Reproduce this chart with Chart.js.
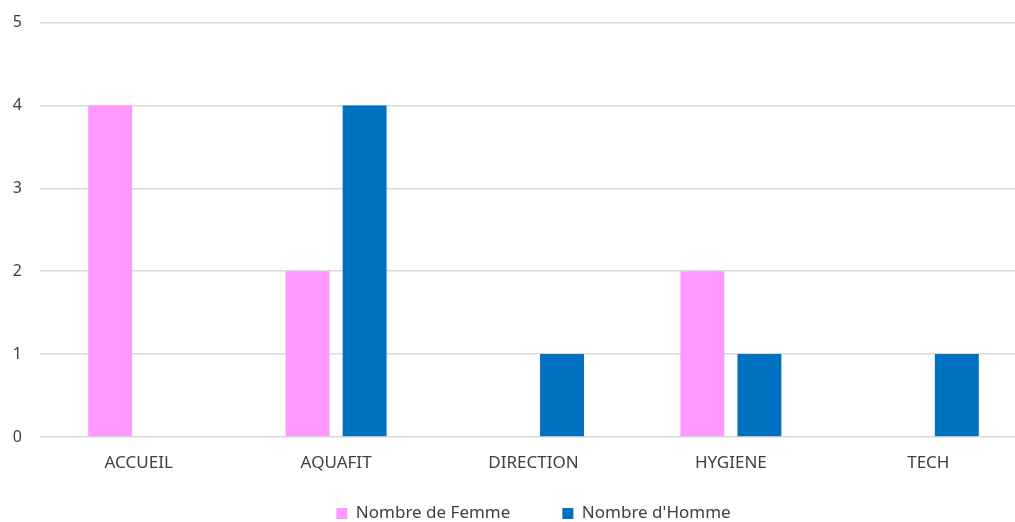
<!DOCTYPE html>
<html>
<head>
<meta charset="utf-8">
<script src="https://cdn.jsdelivr.net/npm/chart.js@4"></script>
<style>
  html, body { margin: 0; background: #fff; }
  #frame { width: 1015px; height: 522px; overflow: hidden; }
  #box { width: 1030px; height: 537px; margin-top: -5px; }
</style>
</head>
<body>
<div id="frame"><div id="box"><canvas id="effectifs"></canvas></div></div>
<script>
/* effectifs par service, femmes / hommes */
const services = ['ACCUEIL', 'AQUAFIT', 'DIRECTION', 'HYGIENE', 'TECH'];
const femmes = [4, 2, 0, 2, 0];
const hommes = [0, 4, 1, 1, 1];
const yMin = 0;
const yMax = 5;
const yStep = 1;

const famille = '"Noto Sans", sans-serif';
const policeAxe = { family: famille, size: 16 };
const policeTexte = { family: famille, size: 17 };

new Chart(document.getElementById('effectifs'), {
  type: 'bar',
  data: {
    labels: services,
    datasets: [
      {
        label: 'Nombre de Femme',
        data: femmes,
        backgroundColor: '#ff99ff',
        borderWidth: 0,
      },
      {
        label: "Nombre d'Homme",
        data: hommes,
        backgroundColor: '#0070c0',
        borderWidth: 0,
      },
    ],
  },
  options: {
    responsive: true,
    maintainAspectRatio: false,
    animation: false,
    categoryPercentage: 0.578,
    barPercentage: 0.77,
    layout: { padding: { top: 18, left: 0, right: 3, bottom: 0 } },
    scales: {
      x: {
        grid: { display: false },
        border: { display: false },
        // mirror: les libellés ne sont pas rognés à la hauteur de l'axe
        ticks: { color: '#404040', font: policeTexte, padding: -36, mirror: true, maxRotation: 0 },
        afterFit: (axe) => { axe.height = 16; },
      },
      y: {
        min: yMin,
        max: yMax,
        grid: { color: '#d9d9d9', lineWidth: 1.5, drawTicks: false },
        border: { display: false },
        ticks: { stepSize: yStep, color: '#404040', font: policeAxe, padding: 18 },
        afterFit: (axe) => { axe.width = 40; },
      },
    },
    plugins: {
      legend: {
        position: 'bottom',
        fullSize: false,
        labels: {
          boxWidth: 11,
          boxHeight: 11,
          padding: 52,
          color: '#404040',
          font: policeTexte,
        },
      },
      tooltip: { enabled: false },
    },
  },
});
</script>
</body>
</html>
